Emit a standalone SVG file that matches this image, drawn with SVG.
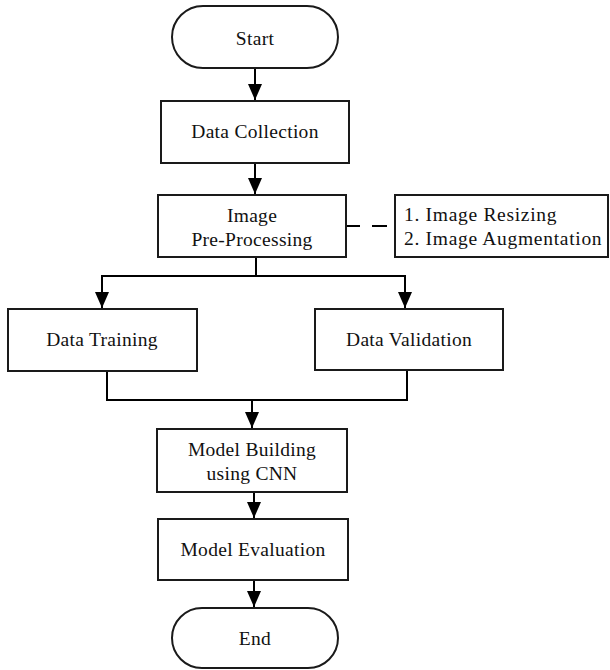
<svg xmlns="http://www.w3.org/2000/svg" width="610" height="670" viewBox="0 0 610 670">
<style>
.box{fill:#fff;stroke:#1a1a1a;stroke-width:2}
.t{font-family:"Liberation Serif","Times New Roman",serif;font-size:19.5px;letter-spacing:0.3px;fill:#111;text-anchor:middle}
.tl{font-family:"Liberation Serif","Times New Roman",serif;font-size:19.5px;letter-spacing:0.7px;fill:#111}
.c{fill:none;stroke:#000;stroke-width:2}
</style>
<defs>
<marker id="ah" markerUnits="userSpaceOnUse" markerWidth="16" markerHeight="14" viewBox="0 0 16 14" refX="16" refY="7" orient="auto">
<path d="M0,0 L16,7 L0,14 Z" fill="#000"/>
</marker>
</defs>
<g id="connectors">
<path class="c" d="M255,68 V100" marker-end="url(#ah)"/>
<path class="c" d="M255,163 V194" marker-end="url(#ah)"/>
<path class="c" d="M346,226 H360 M372,226 H387"/>
<path class="c" d="M256,257 V276 M102,276 H405"/>
<path class="c" d="M102,275 V308" marker-end="url(#ah)"/>
<path class="c" d="M405,275 V308" marker-end="url(#ah)"/>
<path class="c" d="M107,371 V400 H407 V370"/>
<path class="c" d="M252,400 V428" marker-end="url(#ah)"/>
<path class="c" d="M254,492 V518" marker-end="url(#ah)"/>
<path class="c" d="M254,580 V607" marker-end="url(#ah)"/>
</g>
<g id="start">
<rect class="box" x="172" y="6" width="166" height="62" rx="31"/>
<text class="t" x="255" y="45">Start</text>
</g>
<g id="data-collection">
<rect class="box" x="161" y="101" width="188" height="62"/>
<text class="t" x="255" y="138">Data Collection</text>
</g>
<g id="image-preprocessing">
<rect class="box" x="158" y="195" width="188" height="62"/>
<text class="t" x="252" y="222">Image</text>
<text class="t" x="252" y="246">Pre-Processing</text>
</g>
<g id="preprocessing-steps">
<rect class="box" x="395" y="195" width="213" height="62"/>
<text class="tl" x="404" y="221">1. Image Resizing</text>
<text class="tl" x="404" y="245">2. Image Augmentation</text>
</g>
<g id="data-training">
<rect class="box" x="8" y="309" width="189" height="62"/>
<text class="t" x="102" y="346">Data Training</text>
</g>
<g id="data-validation">
<rect class="box" x="315" y="309" width="188" height="61"/>
<text class="t" x="409" y="346">Data Validation</text>
</g>
<g id="model-building">
<rect class="box" x="157" y="429" width="190" height="63"/>
<text class="t" x="252" y="456">Model Building</text>
<text class="t" x="252" y="480">using CNN</text>
</g>
<g id="model-evaluation">
<rect class="box" x="158" y="519" width="190" height="61"/>
<text class="t" x="253" y="556">Model Evaluation</text>
</g>
<g id="end">
<rect class="box" x="172" y="608" width="166" height="60" rx="30"/>
<text class="t" x="255" y="645">End</text>
</g>
</svg>
